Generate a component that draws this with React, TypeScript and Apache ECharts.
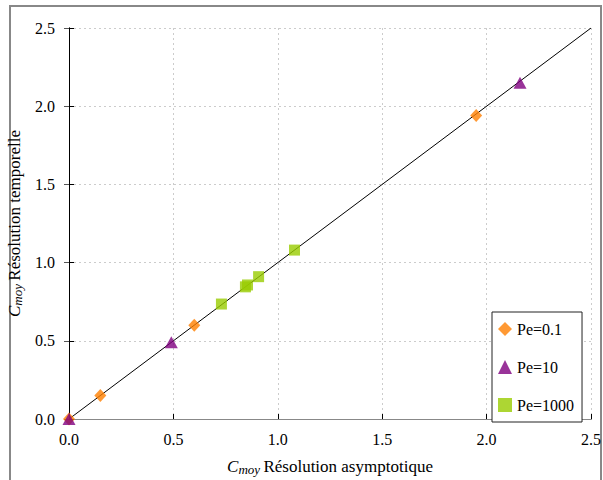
import React, { useEffect, useRef } from "react";
import * as echarts from "echarts";

const seriesNames = ["Pe=0.1", "Pe=10", "Pe=1000"];
const pe01: [number, number][] = [[0, 0], [0.15, 0.15], [0.6, 0.6], [1.95, 1.94]];
const pe10: [number, number][] = [[0, 0], [0.49, 0.49], [2.16, 2.15]];
const pe1000: [number, number][] = [[0.73, 0.735], [0.845, 0.845], [0.855, 0.857], [0.908, 0.91], [1.08, 1.08]];
const identityLine: [number, number][] = [[0, 0], [2.5, 2.5]];

const FONT = "'Liberation Serif', 'Times New Roman', serif";

export default function App() {
  const ref = useRef<HTMLDivElement>(null);
  useEffect(() => {
    const chart = echarts.init(ref.current!, null, { renderer: "svg" });
    const nameRich = {
      c: { fontFamily: FONT, fontStyle: "italic", fontSize: 17, color: "#000" },
      s: { fontFamily: FONT, fontStyle: "italic", fontSize: 13, color: "#000", padding: [6, 0, 0, 0] },
      t: { fontFamily: FONT, fontSize: 17, color: "#000" },
    };
    const labelStyle = {
      fontFamily: FONT,
      fontSize: 16,
      color: "#000",
      formatter: (v: number) => v.toFixed(1),
    };
    chart.setOption({
      animation: false,
      backgroundColor: "#fff",
      grid: { left: 69, right: 12, top: 28, bottom: 61, containLabel: false, outerBoundsMode: "none" },
      graphic: [
        {
          type: "rect",
          shape: { x: 10, y: 6, width: 591, height: 490 },
          style: { fill: "none", stroke: "#888", lineWidth: 2 },
          silent: true,
        },
      ],
      legend: {
        orient: "vertical",
        left: 492,
        top: 312,
        data: seriesNames,
        itemWidth: 14,
        itemHeight: 14,
        itemGap: 22,
        padding: [9, 8, 9, 6],
        borderColor: "#222",
        borderWidth: 1,
        backgroundColor: "#fff",
        textStyle: { fontFamily: FONT, fontSize: 16, color: "#000" },
      },
      xAxis: [
        {
          type: "value",
          min: 0,
          max: 2.5,
          interval: 0.5,
          position: "bottom",
          axisLine: { lineStyle: { color: "#000", width: 1 } },
          axisTick: { show: true, inside: true, length: 5, lineStyle: { color: "#000" } },
          axisLabel: { ...labelStyle, margin: 12 },
          splitLine: { show: true, lineStyle: { color: "#ccc", type: [2, 3] } },
          name: "{c|C}{s|moy} {t|Résolution asymptotique}",
          nameLocation: "middle",
          nameGap: 38,
          nameTextStyle: { rich: nameRich },
        },
        {
          type: "value",
          min: 0,
          max: 2.5,
          interval: 0.5,
          position: "top",
          axisLine: { lineStyle: { color: "#888", width: 1 } },
          axisTick: { show: false },
          axisLabel: { show: false },
          splitLine: { show: false },
        },
      ],
      yAxis: [
        {
          type: "value",
          min: 0,
          max: 2.5,
          interval: 0.5,
          position: "left",
          axisLine: { show: true, lineStyle: { color: "#000", width: 1 } },
          axisTick: { show: true, inside: true, length: 5, lineStyle: { color: "#000" } },
          axisLabel: { ...labelStyle, margin: 14 },
          splitLine: { show: true, lineStyle: { color: "#ccc", type: [2, 3] } },
          name: "{c|C}{s|moy} {t|Résolution temporelle}",
          nameLocation: "middle",
          nameGap: 42,
          nameRotate: 90,
          nameTextStyle: { rich: nameRich },
        },
        {
          type: "value",
          min: 0,
          max: 2.5,
          interval: 0.5,
          position: "right",
          axisLine: { show: true, lineStyle: { color: "#000", width: 1 } },
          axisTick: { show: true, inside: true, length: 5, lineStyle: { color: "#555" } },
          axisLabel: { show: false },
          splitLine: { show: false },
        },
      ],
      series: [
        {
          type: "line",
          data: identityLine,
          showSymbol: false,
          symbol: "none",
          lineStyle: { color: "#000", width: 1 },
          silent: true,
          z: 1,
        },
        {
          name: seriesNames[0],
          type: "scatter",
          data: pe01,
          symbol: "diamond",
          symbolSize: [12, 13],
          itemStyle: { color: "#FF7F00" },
          z: 3,
        },
        {
          name: seriesNames[1],
          type: "scatter",
          data: pe10,
          symbol: "triangle",
          symbolSize: [13, 12],
          itemStyle: { color: "#800080" },
          z: 4,
        },
        {
          name: seriesNames[2],
          type: "scatter",
          data: pe1000,
          symbol: "rect",
          symbolSize: 11,
          itemStyle: { color: "#99CC00" },
          z: 2,
        },
      ],
    });
    return () => chart.dispose();
  }, []);
  return (
    <div
      ref={ref}
      style={{ position: "fixed", left: 0, top: 0, width: 603, height: 480 }}
    />
  );
}
